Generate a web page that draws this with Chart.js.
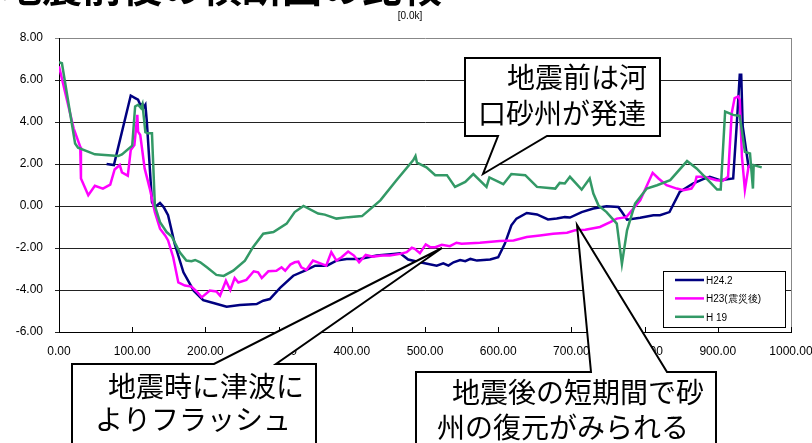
<!DOCTYPE html>
<html>
<head>
<meta charset="utf-8">
<script src="https://cdn.jsdelivr.net/npm/chart.js@4"></script>
<style>
  html, body { margin: 0; padding: 0; background: #fff; }
  canvas { display: block; }
</style>
</head>
<body>
<canvas id="chart" width="812" height="443"></canvas>
<script>
// Cross sections [distance, elevation]
const h24_2 = [
  [65, 2.0], [75, 1.95], [98, 5.26], [104, 5.14], [108, 5.06], [111, 4.82], [114, 4.85], [115, 4.66],
  [118, 4.82], [120, 4.02], [127, 0.19], [131, -0.05], [138, 0.14], [143, -0.05], [149, -0.44],
  [158, -1.8], [170, -3.16], [184, -4.03], [197, -4.48], [211, -4.62], [229, -4.8], [247, -4.72],
  [270, -4.67], [279, -4.51], [288, -4.43], [302, -3.9], [320, -3.32], [336, -3.08], [350, -2.84],
  [366, -2.84], [379, -2.6], [393, -2.52], [411, -2.52], [434, -2.36], [457, -2.28], [466, -2.25],
  [477, -2.55], [493, -2.68], [516, -2.84], [525, -2.73], [532, -2.84], [539, -2.68], [548, -2.57],
  [555, -2.63], [562, -2.52], [571, -2.6], [589, -2.55], [600, -2.44], [609, -1.8], [618, -0.92],
  [625, -0.6], [639, -0.33], [653, -0.4], [668, -0.64], [680, -0.6], [691, -0.53], [698, -0.55],
  [714, -0.29], [730, -0.12], [748, -0.01], [764, -0.05], [769, -0.29], [776, -0.65], [794, -0.56],
  [812, -0.44], [821, -0.44], [834, -0.29], [848, 0.67], [866, 1.07], [880, 1.28], [889, 1.39],
  [903, 1.23], [921, 1.31], [926, 3.94], [930, 6.25], [932, 6.25], [934, 3.8], [942, 1.87], [946, 1.95]
];

const h23 = [
  [0, 6.65], [20, 3.7], [29, 2.82], [30, 1.31], [40, 0.51], [49, 0.96], [60, 0.83], [70, 1.02],
  [76, 1.74], [83, 1.95], [86, 1.6], [94, 1.44], [98, 2.66], [103, 2.9], [107, 4.34], [108, 3.54],
  [111, 3.38], [117, 1.79], [124, 0.83], [131, -0.29], [138, -1.08], [145, -1.4], [149, -1.64],
  [156, -2.44], [163, -3.64], [172, -3.79], [181, -3.84], [188, -4.07], [195, -4.35], [206, -4.03],
  [215, -4.07], [220, -4.27], [228, -3.56], [234, -4.0], [240, -3.43], [245, -3.64], [256, -3.52],
  [266, -3.11], [272, -3.16], [277, -3.43], [286, -3.11], [297, -3.08], [304, -2.92], [309, -3.08],
  [316, -2.79], [322, -2.68], [327, -2.65], [331, -2.92], [338, -3.04], [347, -2.6], [357, -2.73],
  [365, -2.84], [372, -2.2], [379, -2.6], [386, -2.44], [395, -2.17], [403, -2.36], [410, -2.68],
  [419, -2.33], [429, -2.41], [441, -2.36], [452, -2.36], [466, -2.28], [475, -2.2], [482, -1.99],
  [486, -2.04], [493, -2.25], [501, -1.83], [507, -1.96], [514, -1.96], [523, -1.85], [534, -1.91],
  [543, -1.75], [550, -1.8], [575, -1.75], [602, -1.67], [621, -1.64], [639, -1.48], [657, -1.4],
  [675, -1.32], [694, -1.27], [705, -1.16], [719, -1.13], [739, -1.0], [753, -0.77], [762, -0.6],
  [775, -0.53], [794, 0.27], [811, 1.58], [819, 1.31], [830, 0.99], [844, 0.83], [853, 0.75],
  [864, 0.83], [869, 1.1], [871, 1.39], [882, 1.39], [898, 1.23], [907, 1.2], [914, 1.39],
  [919, 4.42], [923, 5.14], [928, 5.22], [930, 5.06], [933, 2.34], [937, 0.78], [942, 1.87], [946, 2.03]
];

const h19 = [
  [0, 6.85], [4, 6.8], [22, 2.98], [26, 2.78], [49, 2.46], [81, 2.38], [86, 2.46], [100, 2.87],
  [104, 4.74], [108, 4.82], [112, 4.66], [114, 4.85], [118, 3.51], [121, 3.46], [127, 3.46],
  [131, 0.0], [138, -0.77], [147, -1.24], [154, -1.45], [165, -2.2], [174, -2.6], [181, -2.63],
  [186, -2.57], [193, -2.68], [202, -2.92], [215, -3.28], [225, -3.33], [238, -3.08], [254, -2.6],
  [265, -1.96], [279, -1.32], [293, -1.24], [311, -0.84], [322, -0.29], [334, 0.0], [354, -0.36],
  [363, -0.41], [379, -0.6], [395, -0.53], [414, -0.48], [439, 0.27], [461, 1.23], [484, 2.19],
  [487, 2.38], [489, 2.06], [502, 1.84], [514, 1.47], [530, 1.47], [541, 0.91], [555, 1.15],
  [566, 1.52], [584, 0.91], [588, 1.36], [607, 1.04], [618, 1.52], [637, 1.47], [653, 0.91],
  [678, 0.83], [684, 1.1], [691, 1.07], [698, 1.39], [714, 0.78], [725, 1.31], [730, 0.59],
  [737, 0.03], [748, -0.29], [762, -0.84], [769, -2.76], [776, -1.16], [787, 0.11], [794, 0.43],
  [803, 0.83], [817, 0.99], [835, 1.23], [858, 2.14], [871, 1.79], [889, 1.15], [899, 0.78],
  [904, 0.78], [910, 4.5], [921, 4.34], [930, 4.29], [937, 2.58], [944, 2.5], [948, 0.83],
  [949, 1.95], [960, 1.84]
];

const seriesLabels = ['H24.2', 'H23(震災後)', 'H 19'];
const seriesColors = ['#000080', '#ff00ff', '#339966'];

const titleText = '地震前後の横断図の比較';
const subText = '[0.0k]';

// Callout boxes: text lines
const callouts = [
  { lines: ['地震前は河', '口砂州が発達'] },
  { lines: ['地震時に津波に', 'よりフラッシュ'] },
  { lines: ['地震後の短期間で砂', '州の復元がみられる'] }
];

const tickFont = { family: "'Liberation Sans', Arial, sans-serif", size: 12 };
const jpFont = "'Noto Sans CJK JP', 'Noto Sans', sans-serif";

const toPoints = arr => arr.map(p => ({ x: p[0], y: p[1] }));

// Overlay drawing: title, inward x ticks, legend box, callouts
const overlay = {
  id: 'overlay',
  afterDraw(chart) {
    const ctx = chart.ctx;
    const area = chart.chartArea;
    const xs = chart.scales.x;

    ctx.save();
    // title (cut off at top edge, as in the original)
    ctx.fillStyle = '#000';
    ctx.font = `bold 40px ${jpFont}`;
    ctx.textBaseline = 'alphabetic';
    ctx.textAlign = 'left';
    ctx.fillText(titleText, 2, 2);
    ctx.font = "10px 'Liberation Sans', Arial, sans-serif";
    ctx.textAlign = 'center';
    ctx.fillText(subText, 410, 19);

    // plot area right border
    ctx.strokeStyle = '#888';
    ctx.lineWidth = 1;
    ctx.beginPath();
    ctx.moveTo(Math.round(area.right) + 0.5, area.top);
    ctx.lineTo(Math.round(area.right) + 0.5, area.bottom);
    ctx.stroke();

    // x ticks pointing into the plot
    ctx.strokeStyle = '#000';
    xs.ticks.forEach(t => {
      const px = Math.round(xs.getPixelForValue(t.value)) + 0.5;
      ctx.beginPath();
      ctx.moveTo(px, area.bottom);
      ctx.lineTo(px, area.bottom - 5);
      ctx.stroke();
    });

    // legend
    const lx = 663.5, ly = 271.5, lw = 122, lh = 56;
    ctx.fillStyle = '#fff';
    ctx.fillRect(lx, ly, lw, lh);
    ctx.strokeStyle = '#000';
    ctx.lineWidth = 1;
    ctx.strokeRect(lx, ly, lw, lh);
    ctx.font = "10px 'Liberation Sans', Arial, sans-serif";
    ctx.textAlign = 'left';
    ctx.textBaseline = 'middle';
    chart.data.datasets.forEach((ds, i) => {
      const y = 280 + i * 18.4;
      ctx.strokeStyle = ds.borderColor;
      ctx.lineWidth = 2.5;
      ctx.beginPath();
      ctx.moveTo(675, y);
      ctx.lineTo(704, y);
      ctx.stroke();
      ctx.fillStyle = '#000';
      ctx.fillText(ds.label, 706, y + 1);
    });

    // callout shapes
    const shapes = [
      [[465, 58], [660, 58], [660, 136], [547, 136], [483, 174], [498, 136], [465, 136]],
      [[72, 364], [214, 364], [442, 248], [276, 364], [316, 364], [316, 452], [72, 452]],
      [[416, 372], [591, 372], [577, 225], [667, 372], [716, 372], [716, 452], [416, 452]]
    ];
    const textPos = [
      [[507, 88], [478, 124]],
      [[108, 397], [95, 430]],
      [[452, 403], [437, 438]]
    ];
    shapes.forEach((pts, i) => {
      ctx.beginPath();
      pts.forEach((p, j) => j ? ctx.lineTo(p[0], p[1]) : ctx.moveTo(p[0], p[1]));
      ctx.closePath();
      ctx.fillStyle = '#fff';
      ctx.fill();
      ctx.strokeStyle = '#000';
      ctx.lineWidth = 2;
      ctx.lineJoin = 'miter';
      ctx.stroke();

      ctx.fillStyle = '#000';
      ctx.font = `28px ${jpFont}`;
      ctx.textAlign = 'left';
      ctx.textBaseline = 'alphabetic';
      callouts[i].lines.forEach((line, k) => {
        ctx.fillText(line, textPos[i][k][0], textPos[i][k][1]);
      });
    });
    ctx.restore();
  }
};

new Chart(document.getElementById('chart'), {
  type: 'line',
  data: {
    datasets: [
      { label: seriesLabels[0], data: toPoints(h24_2), borderColor: seriesColors[0], order: 3 },
      { label: seriesLabels[1], data: toPoints(h23), borderColor: seriesColors[1], order: 2 },
      { label: seriesLabels[2], data: toPoints(h19), borderColor: seriesColors[2], order: 1 }
    ].map(ds => Object.assign(ds, {
      borderWidth: 2.5,
      pointRadius: 0,
      tension: 0,
      fill: false
    }))
  },
  options: {
    responsive: false,
    animation: false,
    events: [],
    layout: { padding: { left: 0, top: 38, right: 21, bottom: 0 } },
    plugins: {
      legend: { display: false },
      tooltip: { enabled: false }
    },
    scales: {
      x: {
        type: 'linear',
        min: 0,
        max: 1000,
        ticks: {
          stepSize: 100,
          color: '#000',
          font: tickFont,
          padding: 12,
          maxRotation: 0,
          callback: v => v.toFixed(2)
        },
        grid: { display: false, drawTicks: false },
        border: { display: true, color: '#000', width: 1 },
        afterFit: s => {
          s.height = 111;
          s.paddingLeft = 0;
          s.paddingRight = 0;
        }
      },
      y: {
        min: -6,
        max: 8,
        ticks: {
          stepSize: 2,
          color: '#000',
          font: tickFont,
          padding: 12,
          callback: v => v.toFixed(2)
        },
        grid: {
          color: c => (c.tick && c.tick.value === 8 ? '#888' : '#222'),
          lineWidth: 1,
          drawTicks: true,
          tickLength: 4
        },
        border: { display: true, color: '#000', width: 1 },
        afterFit: s => {
          s.width = 59;
          s.paddingTop = 0;
          s.paddingBottom = 0;
        }
      }
    }
  },
  plugins: [overlay]
});
</script>
</body>
</html>
